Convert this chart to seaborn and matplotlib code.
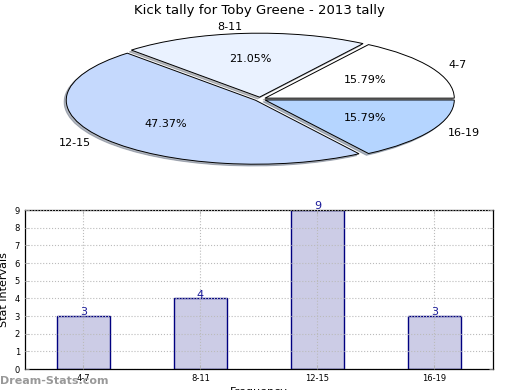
import matplotlib
matplotlib.use('Agg')
import matplotlib.pyplot as plt
import seaborn as sns
import pandas as pd

# Data
categories = ['4-7', '8-11', '12-15', '16-19']
counts = [3, 4, 9, 3]
pie_colors = ['#FFFFFF', '#EAF2FF', '#C5D9FD', '#B5D5FF']

df = pd.DataFrame({'Interval': categories, 'Count': counts})

plt.rcParams['font.family'] = ['DejaVu Sans']

fig = plt.figure(figsize=(5.2, 3.9), dpi=100)

# Pie chart (squashed, exploded, with shadow)
ax_pie = fig.add_axes([0.045, 0.541, 0.91, 0.41])
wedges, texts, autotexts = ax_pie.pie(
    counts, labels=categories, colors=pie_colors, autopct='%.2f%%',
    explode=[0.03] * len(counts),
    shadow={'ox': -0.008, 'oy': -0.02, 'shade': 0.5}, startangle=0,
    wedgeprops={'edgecolor': 'black', 'linewidth': 0.7},
    textprops={'fontsize': 8})
ax_pie.set_aspect('auto')
ax_pie.set_xlim(-1.25, 1.25)
ax_pie.set_ylim(-1.25, 1.25)

fig.text(0.498, 0.973, 'Kick tally for Toby Greene - 2013 tally',
         ha='center', va='center', fontsize=9.5)

# Bar chart
ax = fig.add_axes([0.048, 0.0538, 0.9, 0.4077])
sns.barplot(data=df, x='Interval', y='Count', ax=ax, color='#CCCCE6',
            edgecolor='#000080', linewidth=1.0, width=0.45, saturation=1)
ax.bar_label(ax.containers[0], fmt='%d', color='#1a1a99', fontsize=8, padding=-1)

ax.set_ylim(0, 9)
ax.set_xlim(-0.5, 3.5)
ax.set_yticks(range(0, 10))
ax.tick_params(axis='both', labelsize=6, direction='in', top=True, right=True,
               length=3, width=0.5, color='#aaaaaa')
ax.grid(True, linestyle=':', color='#bbbbbb', linewidth=0.8)
ax.set_axisbelow(False)
for s in ax.spines.values():
    s.set_linewidth(0.9)
ax.set_xlabel('Frequency', fontsize=8, labelpad=3)
ax.set_ylabel('Stat Intervals', fontsize=8, labelpad=4)

fig.text(0.0, 0.022, 'Dream-Stats.com', ha='left', va='center',
         fontsize=8, color='#999999', fontweight='bold')

plt.savefig('out.png', dpi=100)
